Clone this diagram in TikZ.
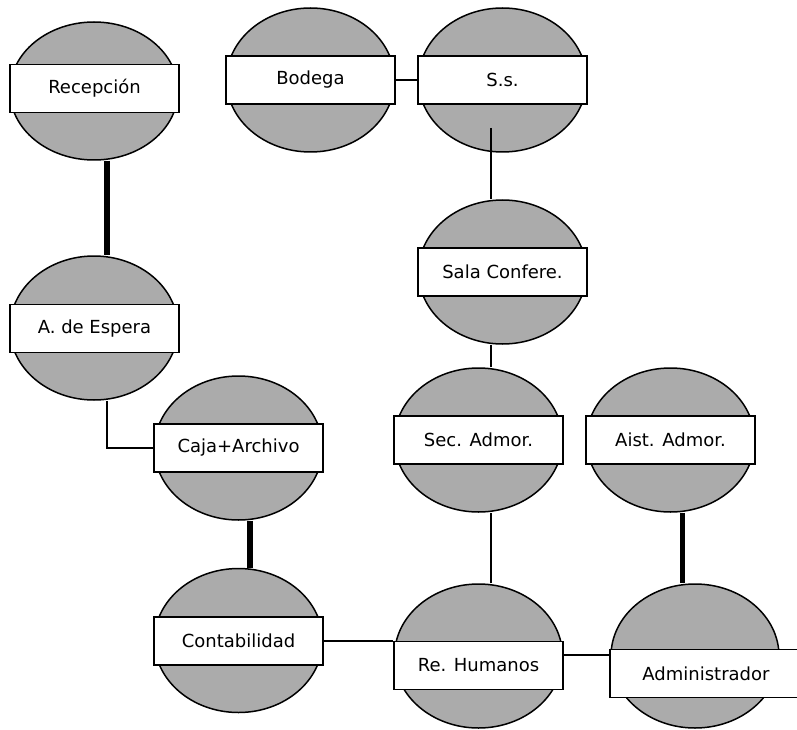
\documentclass[tikz,border=0pt]{standalone}
\usepackage{fontspec}
\setmainfont{DejaVu Sans}
\usepackage{xcolor}
\usepackage{tikz}
\usetikzlibrary{shapes,calc}
\definecolor{roomgray}{RGB}{171,171,171}
\tikzset{
  room/.style={
    shape = ellipse,
    draw,
    line width=1.5pt,
    fill=roomgray,
    inner sep = 0pt,
    minimum width=168pt,
    minimum height=144pt
  },
  roomname/.style={
    shape = rectangle,
    draw,
    line width=1.5pt,
    fill=white,
    inner sep = 0pt,
    minimum width=169pt,
    minimum height=48pt,
    font=\fontsize{18}{20}\selectfont
  },
  link/.style={
    line width=1.5pt
  },
  thicklink/.style={
    line width=5.5pt
  }
}

\begin{document}
\begin{tikzpicture}[x=1pt,y=-1pt]
        \useasboundingbox (0,0) rectangle (797,730);
        % rooms
        \node[room, minimum height=138pt] (rec) at (94,91) {};
        \node[room] (bod) at (310.5,80) {};
        \node[room] (ss) at (502.5,80) {};
        \node[room] (sala) at (502.5,272) {};
        \node[room] (esp) at (94,328) {};
        \node[room] (caja) at (238.5,448) {};
        \node[room] (sec) at (478.5,440) {};
        \node[room] (aist) at (670.5,440) {};
        \node[room] (cont) at (238.5,640.5) {};
        \node[room] (rh) at (478.5,656) {};
        \node[room] (adm) at (695,656) {};
        % names
        \node[roomname] (recl) at (94.5,88.5) {Recepción};
        \node[roomname] (bodl) at (310.5,80) {Bodega};
        \node[roomname] (ssl) at (502.5,80) {S.s.};
        \node[roomname] (salal) at (502.5,272) {Sala Confere.};
        \node[roomname] (espl) at (94.5,328.5) {A. de Espera};
        \node[roomname] (cajal) at (238.5,448) {Caja+Archivo};
        \node[roomname] (secl) at (478.5,440) {Sec. Admor.};
        \node[roomname] (aistl) at (670.5,440) {Aist. Admor.};
        \node[roomname] (contl) at (238.5,641) {Contabilidad};
        \node[roomname] (rhl) at (478.5,665.5) {Re. Humanos};
        \node[roomname, minimum width=192pt] (adml) at (706,673.5) {Administrador};
        % links
        \coordinate (ssfoot) at (491,128);
        \draw[thicklink] ([xshift=13pt]rec.south) -- ([xshift=13pt]esp.north);
        \draw[link] (bodl.east) -- (ssl.west);
        \draw[link] (ssfoot) -- (ssfoot |- sala.north);
        \draw[link] (sala.south -| ssfoot) -- (sec.north -| ssfoot);
        \draw[link] (sec.south -| ssfoot) -- (rh.north -| ssfoot);
        \draw[link] ([xshift=13pt]esp.south) |- (cajal.west);
        \draw[thicklink] ([xshift=11.5pt]caja.south) -- ([xshift=11.5pt]cont.north);
        \draw[link] (contl.east) -- (contl.east -| rhl.west);
        \draw[link] ([yshift=10.5pt]rhl.east) -- ([yshift=10.5pt]rhl.east -| adml.west);
        \draw[thicklink] ([xshift=12pt]aist.south) -- ([xshift=12pt]aist.south |- adm.north);
    \end{tikzpicture}
\end{document}
